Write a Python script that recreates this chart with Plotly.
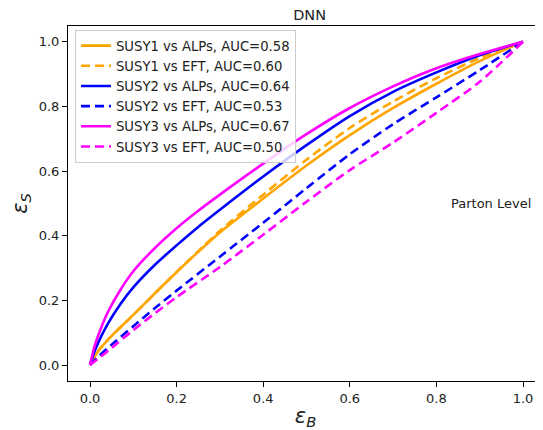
import plotly.graph_objects as go

# ---- data ----
labels = [
    "SUSY1 vs ALPs, AUC=0.58",
    "SUSY1 vs EFT, AUC=0.60",
    "SUSY2 vs ALPs, AUC=0.64",
    "SUSY2 vs EFT, AUC=0.53",
    "SUSY3 vs ALPs, AUC=0.67",
    "SUSY3 vs EFT, AUC=0.50",
]

susy1_alps_x = [0, 0.02, 0.05, 0.1, 0.15, 0.2, 0.25, 0.3, 0.4, 0.5, 0.6, 0.7, 0.8, 0.9, 1.0]
susy1_alps_y = [0, 0.045, 0.09, 0.155, 0.222, 0.287, 0.35, 0.41, 0.515, 0.617, 0.711, 0.795, 0.87, 0.94, 1.0]

susy1_eft_x = [0, 0.02, 0.05, 0.1, 0.15, 0.2, 0.25, 0.3, 0.4, 0.5, 0.6, 0.7, 0.8, 0.9, 1.0]
susy1_eft_y = [0, 0.045, 0.09, 0.155, 0.222, 0.288, 0.352, 0.415, 0.527, 0.635, 0.733, 0.815, 0.887, 0.95, 1.0]

susy2_alps_x = [0, 0.01, 0.02, 0.04, 0.07, 0.1, 0.15, 0.2, 0.25, 0.3, 0.4, 0.5, 0.6, 0.7, 0.8, 0.9, 1.0]
susy2_alps_y = [0, 0.04, 0.072, 0.125, 0.188, 0.24, 0.31, 0.37, 0.427, 0.48, 0.583, 0.68, 0.77, 0.845, 0.905, 0.958, 1.0]

susy2_eft_x = [0, 0.02, 0.05, 0.1, 0.15, 0.2, 0.3, 0.4, 0.5, 0.6, 0.7, 0.8, 0.9, 1.0]
susy2_eft_y = [0, 0.027, 0.063, 0.12, 0.176, 0.23, 0.335, 0.44, 0.547, 0.652, 0.745, 0.828, 0.912, 1.0]

susy3_alps_x = [0, 0.01, 0.02, 0.04, 0.07, 0.1, 0.15, 0.2, 0.25, 0.3, 0.4, 0.5, 0.6, 0.7, 0.8, 0.9, 1.0]
susy3_alps_y = [0, 0.055, 0.095, 0.16, 0.232, 0.29, 0.362, 0.423, 0.477, 0.527, 0.623, 0.714, 0.795, 0.862, 0.918, 0.962, 1.0]

susy3_eft_x = [0, 0.02, 0.05, 0.1, 0.15, 0.2, 0.3, 0.4, 0.5, 0.6, 0.7, 0.8, 0.9, 1.0]
susy3_eft_y = [0, 0.021, 0.053, 0.108, 0.16, 0.21, 0.303, 0.403, 0.505, 0.603, 0.688, 0.78, 0.876, 1.0]

tick_vals = [0.0, 0.2, 0.4, 0.6, 0.8, 1.0]
tick_text = ["0.0", "0.2", "0.4", "0.6", "0.8", "1.0"]

series = [
    (susy1_alps_x, susy1_alps_y, "orange", "solid"),
    (susy1_eft_x, susy1_eft_y, "orange", "9px,5px"),
    (susy2_alps_x, susy2_alps_y, "blue", "solid"),
    (susy2_eft_x, susy2_eft_y, "blue", "9px,5px"),
    (susy3_alps_x, susy3_alps_y, "magenta", "solid"),
    (susy3_eft_x, susy3_eft_y, "magenta", "9px,5px"),
]

FONT = "DejaVu Sans"

fig = go.Figure()
for (xs, ys, col, dash), name in zip(series, labels):
    fig.add_trace(go.Scatter(
        x=xs, y=ys, mode="lines", name=name,
        line=dict(color=col, width=2.6, dash=dash, shape="spline", smoothing=0.8),
    ))

fig.add_annotation(
    x=0.83, y=0.5, xref="x", yref="y", text="Parton Level",
    showarrow=False, xanchor="left", yanchor="middle",
    font=dict(family=FONT, size=13, color="#222"),
)

# page body has an 8px margin, so the figure is sized/placed to compensate
fig.update_layout(
    width=535, height=422,
    margin=dict(l=60, r=0, t=18, b=49, autoexpand=False),
    paper_bgcolor="white", plot_bgcolor="white",
    font=dict(family=FONT, size=13, color="#222"),
    title=dict(text="DNN", x=0.5637, xanchor="center", y=0.9834, yanchor="middle",
               automargin=False,
               font=dict(family=FONT, size=14.5, color="#222")),
    showlegend=True,
    legend=dict(
        x=0.0147, y=0.99, xanchor="left", yanchor="top",
        bgcolor="rgba(255,255,255,0.8)", bordercolor="#cccccc", borderwidth=1,
        font=dict(family=FONT, size=13.2, color="#222"),
        tracegroupgap=0,
    ),
)

fig.update_xaxes(
    range=[-0.0508, 1.0462], tickvals=tick_vals, ticktext=tick_text,
    showline=True, linecolor="black", linewidth=1, mirror=True, automargin=False,
    ticks="outside", ticklen=5, tickcolor="black", showgrid=False, zeroline=False,
    title=dict(text="<i>ε</i><sub><i>B</i></sub>", font=dict(family=FONT, size=21, color="#222"), standoff=6),
)
fig.update_yaxes(
    range=[-0.0495, 1.0486], tickvals=tick_vals, ticktext=tick_text,
    showline=True, linecolor="black", linewidth=1, mirror=False, automargin=False,
    ticks="outside", ticklen=5, tickcolor="black", showgrid=False, zeroline=False,
    title=dict(text="<i>ε</i><sub><i>S</i></sub>", font=dict(family=FONT, size=21, color="#222"), standoff=15),
)

fig.write_html("out.html")
